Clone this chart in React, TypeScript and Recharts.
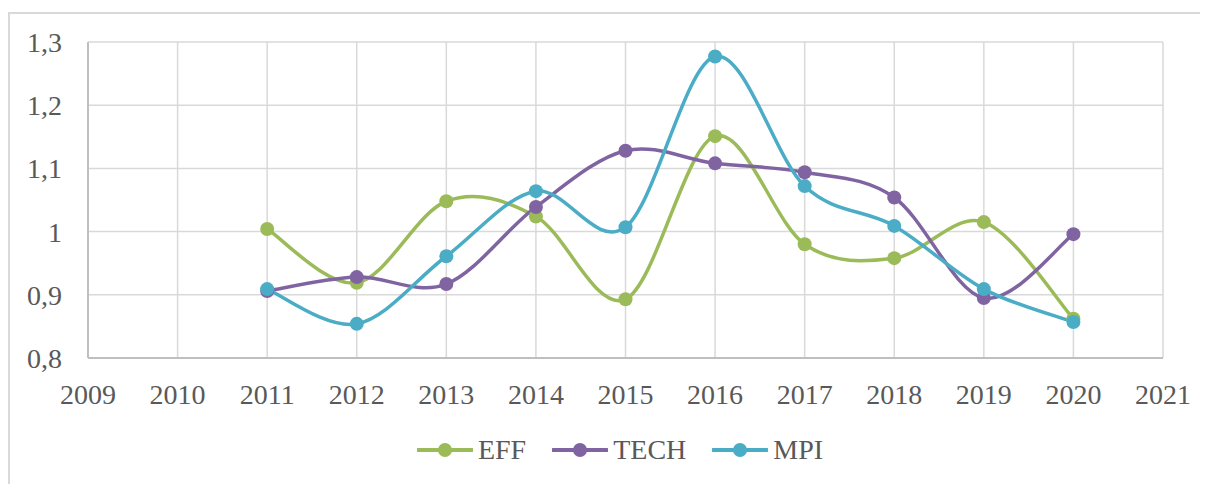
import React from 'react';
import { LineChart, Line, XAxis, YAxis, CartesianGrid } from 'recharts';

const years = [2011, 2012, 2013, 2014, 2015, 2016, 2017, 2018, 2019, 2020];
const eff = [1.004, 0.919, 1.048, 1.024, 0.893, 1.151, 0.98, 0.958, 1.015, 0.862];
const tech = [0.906, 0.928, 0.917, 1.039, 1.128, 1.108, 1.094, 1.054, 0.895, 0.996];
const mpi = [0.909, 0.854, 0.961, 1.064, 1.007, 1.277, 1.072, 1.009, 0.909, 0.857];
const xTicks = [2009, 2010, 2011, 2012, 2013, 2014, 2015, 2016, 2017, 2018, 2019, 2020, 2021];
const yTicks = [0.8, 0.9, 1.0, 1.1, 1.2, 1.3];

const series = [
  { key: 'EFF', color: '#9BBB59' },
  { key: 'TECH', color: '#8064A2' },
  { key: 'MPI', color: '#4BACC6' },
];

const data = years.map((year, i) => ({ year, EFF: eff[i], TECH: tech[i], MPI: mpi[i] }));

const FONT = '"Liberation Serif", "Times New Roman", serif';
const TEXT = '#595959';

// smoothed line like the office "smooth line" option (catmull-rom style bezier)
function smoothCurve(context: any) {
  let pts: [number, number][] = [];
  return {
    areaStart() {},
    areaEnd() {},
    lineStart() {
      pts = [];
    },
    point(x: number, y: number) {
      pts.push([+x, +y]);
    },
    lineEnd() {
      if (!pts.length) return;
      context.moveTo(pts[0][0], pts[0][1]);
      for (let i = 0; i < pts.length - 1; i++) {
        const p0 = pts[i - 1] || pts[i];
        const p1 = pts[i];
        const p2 = pts[i + 1];
        const p3 = pts[i + 2] || p2;
        context.bezierCurveTo(
          p1[0] + (p2[0] - p0[0]) / 6,
          p1[1] + (p2[1] - p0[1]) / 6,
          p2[0] - (p3[0] - p1[0]) / 6,
          p2[1] - (p3[1] - p1[1]) / 6,
          p2[0],
          p2[1]
        );
      }
    },
  };
}

const fmtY = (v: number) => String(Number(v.toFixed(1))).replace('.', ',');

export default function App() {
  return (
    <div style={{ position: 'relative', width: 1200, height: 476, fontFamily: FONT }}>
      <div
        style={{
          position: 'absolute',
          left: 0,
          top: 4,
          width: 1200,
          height: 472,
          borderTop: '2px solid #d9d9d9',
          borderLeft: '2px solid #d9d9d9',
          boxSizing: 'border-box',
        }}
      />
      <div style={{ position: 'absolute', left: 0, top: 0 }}>
        <LineChart width={1200} height={476} data={data} margin={{ top: 34, right: 45, bottom: 66, left: 0 }}>
          <CartesianGrid stroke="#d9d9d9" strokeWidth={1.5} />
          <XAxis
            dataKey="year"
            type="number"
            domain={[2009, 2021]}
            ticks={xTicks}
            interval={0}
            tickLine={false}
            tickSize={0}
            tickMargin={26}
            height={60}
            axisLine={{ stroke: '#bfbfbf', strokeWidth: 2 }}
            tick={{ fontSize: 28, fill: TEXT, fontFamily: FONT }}
          />
          <YAxis
            type="number"
            domain={[0.8, 1.3]}
            ticks={yTicks}
            interval={0}
            width={80}
            tickLine={false}
            tickSize={0}
            tickMargin={26}
            tickFormatter={fmtY}
            axisLine={{ stroke: '#bfbfbf', strokeWidth: 2 }}
            tick={{ fontSize: 28, fill: TEXT, fontFamily: FONT }}
          />
          {series.map((s) => (
            <Line
              key={s.key}
              dataKey={s.key}
              type={smoothCurve as any}
              stroke={s.color}
              strokeWidth={3.5}
              dot={{ r: 7, fill: s.color, stroke: s.color, strokeWidth: 0 }}
              activeDot={false}
              isAnimationActive={false}
            />
          ))}
        </LineChart>
      </div>
      <div
        style={{
          position: 'absolute',
          left: 0,
          top: 424,
          width: 1224,
          display: 'flex',
          justifyContent: 'center',
          alignItems: 'center',
          gap: 26,
          fontSize: 28,
          color: TEXT,
        }}
      >
        {series.map((s) => (
          <div key={s.key} style={{ display: 'flex', alignItems: 'center', gap: 5 }}>
            <svg width={56} height={20}>
              <line x1={1} y1={10} x2={55} y2={10} stroke={s.color} strokeWidth={4} strokeLinecap="round" />
              <circle cx={28} cy={10} r={7} fill={s.color} />
            </svg>
            <span style={{ lineHeight: '36px' }}>{s.key}</span>
          </div>
        ))}
      </div>
    </div>
  );
}
